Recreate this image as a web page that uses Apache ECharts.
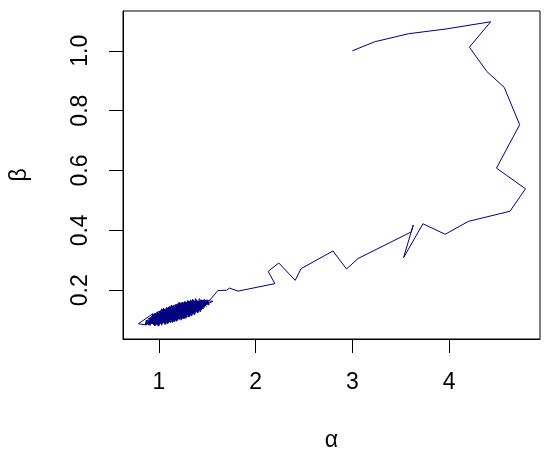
<!DOCTYPE html>
<html>
<head>
<meta charset="utf-8">
<script src="https://cdn.jsdelivr.net/npm/echarts@6/dist/echarts.min.js"></script>
<style>
  html, body { margin: 0; padding: 0; background: #fff; }
  #chart { width: 550px; height: 460px; }
</style>
</head>
<body>
<div id="chart"></div>
<script>
// burn-in path, from the starting value down to the stationary region
const burnAlpha = [3.00, 3.23, 3.58, 3.97, 4.43, 4.21, 4.39, 4.57, 4.73, 4.49, 4.79, 4.63, 4.20, 3.96, 3.73, 3.53,
  3.63, 3.61, 3.06, 2.94, 2.80, 2.47, 2.41, 2.24, 2.13, 2.20, 1.82, 1.73, 1.70, 1.61, 1.58, 1.53]
const burnBeta = [1.000, 1.030, 1.057, 1.073, 1.097, 1.012, 0.931, 0.878, 0.753, 0.608, 0.539, 0.464, 0.430, 0.387, 0.422, 0.309,
  0.418, 0.395, 0.306, 0.271, 0.331, 0.272, 0.233, 0.291, 0.263, 0.222, 0.197, 0.207, 0.200, 0.199, 0.187, 0.168]

// stationary part of the chain (the dense cloud)
const chainAlpha = [1.45, 1.38, 1.30, 1.22, 1.12, 1.18, 1.05, 0.98, 1.08, 1.15, 1.26, 1.34, 1.41, 1.28, 1.20, 1.10,
  1.02, 0.93, 0.99, 1.07, 1.16, 1.24, 1.32, 1.44, 1.36, 1.27, 1.19, 1.11, 1.04, 0.96, 0.90, 1.01,
  1.09, 1.17, 1.23, 1.31, 1.39, 1.47, 1.42, 1.33, 1.25, 1.14, 1.06, 0.97, 1.03, 1.13, 1.21, 1.29,
  1.37, 1.30, 1.22, 1.12, 1.05, 0.99, 0.92, 0.87, 0.79, 0.94, 0.95, 1.04, 1.12, 1.19, 1.27, 1.35,
  1.43, 1.56, 1.49, 1.40, 1.32, 1.24, 1.16, 1.08, 1.00, 0.94, 1.02, 1.10, 1.18, 1.26, 1.34, 1.41,
  1.33, 1.25, 1.17, 1.09, 1.01, 0.91, 0.98, 1.06, 1.14, 1.22, 1.30, 1.38, 1.46, 1.36, 1.28, 1.20,
  1.13, 1.07, 0.99, 0.93, 1.03, 1.11, 1.18, 1.26, 1.35, 1.29, 1.21, 1.15, 1.08, 1.00, 0.95, 1.05,
  1.13, 1.23, 1.31, 1.39, 1.45, 1.37, 1.27, 1.19, 1.10, 1.02, 0.94, 0.89, 0.97, 1.06, 1.15, 1.24,
  1.33, 1.42, 1.50, 1.44, 1.35, 1.28, 1.21, 1.14, 1.05, 0.96, 0.91, 1.00, 1.09, 1.17, 1.25, 1.32,
  1.40, 1.48, 1.41, 1.31, 1.23, 1.16, 1.09, 1.03, 0.97, 1.04, 1.12, 1.20, 1.27, 1.36, 1.43, 1.52,
  1.46, 1.38, 1.29, 1.22, 1.15, 1.07, 0.98, 0.92, 0.86, 0.95, 1.03, 1.11, 1.19, 1.26, 1.34, 1.28,
  1.20, 1.12, 1.04, 0.99, 1.08, 1.17, 1.25,
  1.25, 1.21, 1.17, 1.12, 1.08, 1.03, 0.99, 0.95, 0.92, 0.89, 0.94, 0.99, 1.05, 1.10, 1.15, 1.19,
  1.24, 1.28, 1.33, 1.37, 1.42, 1.46, 1.50, 1.52, 1.47, 1.43, 1.38, 1.34, 1.30, 1.26, 1.22, 1.18,
  1.13, 1.09, 1.04, 1.00, 0.96, 0.91, 0.87, 0.86, 0.90, 0.96, 1.02, 1.07, 1.11, 1.16, 1.20, 1.23,
  1.27, 1.31, 1.35, 1.40, 1.44, 1.49, 1.45, 1.41, 1.36, 1.32, 1.29, 1.24, 1.19, 1.14, 1.10, 1.06,
  1.01, 0.97, 0.93, 0.88, 0.92, 0.98, 1.03, 1.08, 1.13, 1.17, 1.21, 1.26, 1.31, 1.36, 1.39, 1.44,
  1.48, 1.51, 1.46, 1.41, 1.37, 1.33, 1.28, 1.23, 1.18, 1.15, 1.11, 1.06, 1.02, 0.98, 0.94, 0.90,
  0.95, 1.01, 1.06, 1.11, 1.16, 1.20, 1.25, 1.29, 1.34, 1.39, 1.43, 1.47,
  0.88, 0.97, 1.06, 1.15, 1.24, 1.33, 1.42, 1.50, 1.40, 1.30, 1.20, 1.10, 1.00, 0.91, 0.99, 1.09,
  1.18, 1.28, 1.37, 1.46, 1.38, 1.29, 1.19, 1.09, 0.98, 0.90, 1.01, 1.11, 1.21, 1.31, 1.41, 1.48,
  1.39, 1.30, 1.22, 1.14, 1.05, 0.96, 1.04, 1.13, 1.23, 1.32, 1.42, 1.35, 1.26, 1.16, 1.07, 0.97,
  0.89, 0.99, 1.08, 1.18, 1.27, 1.36, 1.44, 1.34, 1.25, 1.15, 1.06, 0.95, 1.02, 1.12, 1.22, 1.30]
const chainBeta = [0.150, 0.165, 0.128, 0.148, 0.106, 0.140, 0.128, 0.092, 0.122, 0.105, 0.155, 0.130, 0.160, 0.118, 0.150, 0.099,
  0.124, 0.090, 0.113, 0.094, 0.142, 0.120, 0.160, 0.146, 0.122, 0.150, 0.112, 0.138, 0.098, 0.108, 0.088, 0.100,
  0.130, 0.118, 0.155, 0.134, 0.148, 0.158, 0.138, 0.152, 0.126, 0.145, 0.110, 0.120, 0.088, 0.114, 0.104, 0.144,
  0.158, 0.112, 0.136, 0.124, 0.136, 0.098, 0.102, 0.084, 0.088, 0.122, 0.094, 0.118, 0.092, 0.128, 0.108, 0.142,
  0.166, 0.163, 0.152, 0.130, 0.146, 0.112, 0.132, 0.104, 0.130, 0.106, 0.108, 0.144, 0.106, 0.140, 0.118, 0.146,
  0.164, 0.146, 0.150, 0.116, 0.090, 0.096, 0.126, 0.092, 0.120, 0.108, 0.156, 0.136, 0.150, 0.150, 0.130, 0.142,
  0.100, 0.134, 0.104, 0.098, 0.132, 0.110, 0.152, 0.118, 0.160, 0.124, 0.146, 0.112, 0.140, 0.116, 0.086, 0.104,
  0.136, 0.128, 0.122, 0.156, 0.140, 0.128, 0.162, 0.120, 0.128, 0.094, 0.114, 0.092, 0.098, 0.126, 0.096, 0.140,
  0.126, 0.160, 0.160, 0.152, 0.134, 0.154, 0.118, 0.134, 0.116, 0.116, 0.104, 0.096, 0.098, 0.138, 0.106, 0.150,
  0.140, 0.148, 0.152, 0.116, 0.146, 0.108, 0.124, 0.112, 0.090, 0.126, 0.132, 0.112, 0.144, 0.162, 0.144, 0.158,
  0.162, 0.128, 0.136, 0.124, 0.140, 0.102, 0.114, 0.094, 0.086, 0.102, 0.120, 0.100, 0.136, 0.128, 0.150, 0.112,
  0.130, 0.116, 0.108, 0.120, 0.112, 0.126, 0.136,
  0.160, 0.102, 0.152, 0.093, 0.142, 0.083, 0.128, 0.084, 0.110, 0.083, 0.120, 0.082, 0.140, 0.090, 0.150, 0.098,
  0.160, 0.106, 0.168, 0.118, 0.172, 0.138, 0.168, 0.150, 0.170, 0.128, 0.172, 0.114, 0.166, 0.104, 0.158, 0.096,
  0.148, 0.088, 0.136, 0.080, 0.124, 0.082, 0.100, 0.084, 0.108, 0.080, 0.132, 0.086, 0.146, 0.094, 0.156, 0.100,
  0.162, 0.110, 0.170, 0.124, 0.168, 0.146, 0.160, 0.126, 0.166, 0.112, 0.160, 0.104, 0.154, 0.092, 0.144, 0.086,
  0.130, 0.084, 0.114, 0.086, 0.104, 0.088, 0.138, 0.090, 0.150, 0.100, 0.160, 0.108, 0.164, 0.120, 0.168, 0.134,
  0.164, 0.152, 0.166, 0.132, 0.164, 0.118, 0.156, 0.112, 0.150, 0.104, 0.140, 0.094, 0.126, 0.092, 0.116, 0.090,
  0.118, 0.090, 0.134, 0.098, 0.146, 0.108, 0.152, 0.116, 0.162, 0.130, 0.160, 0.150,
  0.094, 0.088, 0.125, 0.101, 0.147, 0.131, 0.163, 0.155, 0.131, 0.158, 0.119, 0.139, 0.100, 0.105, 0.123, 0.094,
  0.133, 0.114, 0.150, 0.145, 0.165, 0.132, 0.150, 0.106, 0.112, 0.090, 0.087, 0.124, 0.113, 0.151, 0.144, 0.163,
  0.135, 0.142, 0.150, 0.109, 0.129, 0.098, 0.092, 0.136, 0.127, 0.120, 0.153, 0.166, 0.120, 0.135, 0.108, 0.117,
  0.097, 0.092, 0.119, 0.103, 0.157, 0.128, 0.161, 0.150, 0.125, 0.142, 0.099, 0.113, 0.113, 0.103, 0.140, 0.124]

const xTicks = [1, 2, 3, 4]
const yTicks = [0.2, 0.4, 0.6, 0.8, 1.0]

const alpha = burnAlpha.concat(chainAlpha)
const beta = burnBeta.concat(chainBeta)
const trace = alpha.map((a, i) => [a, beta[i]])

const font = 'Liberation Sans, Arial, sans-serif'
const ink = '#000'

const option = {
  animation: false,
  backgroundColor: '#fff',
  grid: {
    left: 123, right: 10, top: 11, bottom: 121,
    show: true, borderColor: ink, borderWidth: 1
  },
  xAxis: {
    type: 'value',
    min: 0.63,
    max: 4.94,
    splitLine: {show: false},
    axisLine: {show: true, lineStyle: {color: ink}},
    axisTick: {show: true, length: 14, customValues: xTicks, lineStyle: {color: ink}},
    axisLabel: {customValues: xTicks, margin: 32, fontSize: 23, fontFamily: font, color: ink},
    name: 'α',
    nameLocation: 'middle',
    nameGap: 90,
    nameTextStyle: {fontSize: 23, fontFamily: font, color: ink}
  },
  yAxis: {
    type: 'value',
    min: 0.037,
    max: 1.133,
    splitLine: {show: false},
    axisLine: {show: true, lineStyle: {color: ink}},
    axisTick: {show: true, length: 14, customValues: yTicks, lineStyle: {color: ink}},
    axisLabel: {
      customValues: yTicks, rotate: 90, margin: 31, fontSize: 23, fontFamily: font, color: ink,
      formatter: v => v.toFixed(1)
    },
    name: 'β',
    nameLocation: 'middle',
    nameGap: 92,
    nameTextStyle: {fontSize: 23, fontFamily: font, color: ink}
  },
  series: [{
    type: 'line',
    data: trace,
    showSymbol: false,
    symbol: 'none',
    lineStyle: {width: 1, color: '#000080'}
  }]
}

echarts.init(document.getElementById('chart'), null, {renderer: 'canvas'}).setOption(option)
</script>
</body>
</html>
